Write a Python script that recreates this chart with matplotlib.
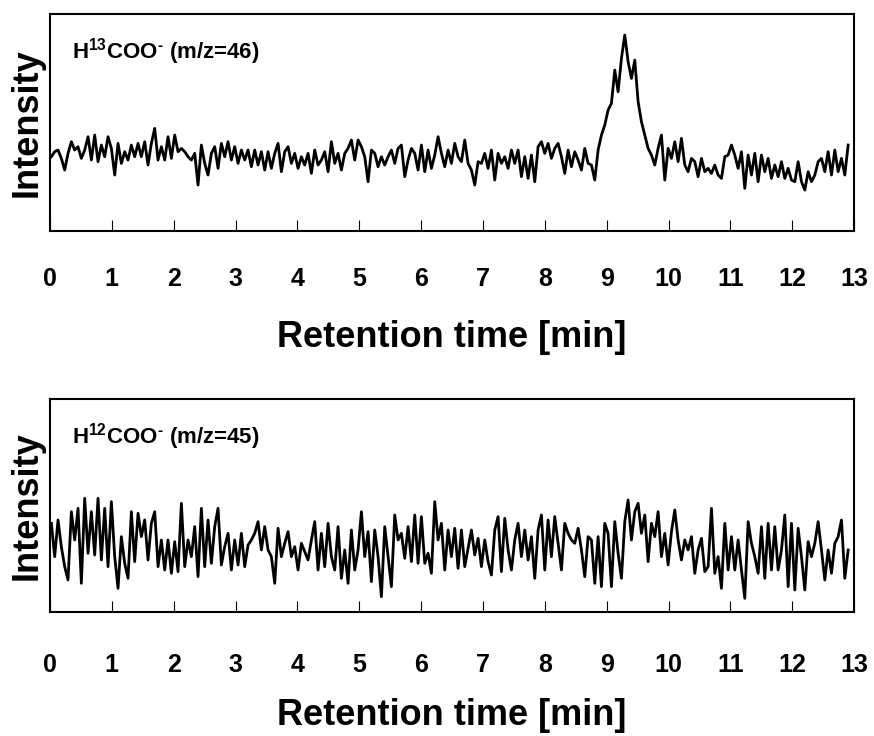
import numpy as np
import matplotlib
matplotlib.use("Agg")
import matplotlib.pyplot as plt

# sampling grid of the chromatogram (min)
sample_start = 0.022
sample_step = 0.0539

# H13COO- trace, m/z 46 (arbitrary intensity units)
h13coo = [
    223, 238, 243, 218, 183, 233, 268, 243, 253, 218,
    243, 283, 213, 288, 208, 258, 223, 283, 248, 168,
    263, 203, 238, 213, 258, 223, 263, 223, 268, 198,
    263, 308, 213, 253, 213, 283, 218, 288, 238, 248,
    238, 223, 213, 233, 138, 258, 203, 168, 233, 253,
    188, 263, 223, 268, 213, 253, 203, 243, 213, 243,
    193, 243, 198, 238, 183, 238, 188, 233, 263, 178,
    238, 253, 203, 233, 188, 223, 198, 233, 173, 243,
    198,
    213, 238, 178, 268, 203, 233, 183, 233, 248, 273,
    213, 273, 253, 223, 148, 243, 233, 193, 223, 198,
    223, 243, 203, 248, 258, 163, 213, 248, 233, 183,
    258, 178, 243, 188, 228, 283, 233, 193, 243, 203,
    263, 223, 208, 273, 203, 183, 138, 208, 203, 233,
    188, 243, 153, 233, 203, 223, 188, 243, 203, 243,
    163, 223, 158, 228, 148, 253, 268, 233, 263, 218,
    248, 263, 223, 173, 243, 193, 238, 213, 183, 248,
    203,
    198, 153, 243, 288, 318, 363, 383, 483, 418, 518,
    588, 508, 458, 513, 388, 328, 288, 248, 228, 198,
    248, 288, 153, 248, 218, 268, 208, 278, 198, 178,
    218, 208, 163, 218, 178, 188, 173, 198, 168, 158,
    223, 228, 258, 228, 188, 238, 128, 228, 168, 233,
    148, 228, 178, 218, 158, 198, 163, 208, 158, 188,
    153, 148, 208, 148, 123, 178, 148, 168, 208, 218,
    178, 238, 168, 243, 178, 218, 168, 258,
]

# H12COO- trace, m/z 45
h12coo = [
    266, 166, 276, 196, 136, 96, 301, 216, 311, 86,
    341, 176, 301, 171, 341, 156, 311, 136, 331, 166,
    71, 226, 146, 101, 301, 151, 296, 226, 276, 156,
    266, 301, 136, 216, 126, 216, 116, 211, 121, 326,
    136, 216, 166, 256, 106, 311, 136, 276, 146, 256,
    311, 141, 196, 236, 126, 216, 141, 236, 136, 201,
    216, 236, 271, 186, 256, 186, 166, 86, 251, 166,
    206, 241, 166, 196, 126, 206, 181, 156, 216, 271,
    126,
    236, 136, 266, 166, 126, 256, 101, 186, 86, 246,
    126, 186, 301, 166, 241, 91, 246, 166, 46, 256,
    166, 76, 291, 216, 236, 161, 256, 151, 291, 146,
    286, 146, 176, 116, 331, 216, 266, 126, 246, 166,
    251, 131, 246, 136, 191, 246, 171, 221, 136, 216,
    151, 111, 246, 286, 121, 281, 186, 126, 216, 266,
    166, 246, 156, 226, 101, 246, 291, 126, 276, 166,
    286, 206, 126, 266, 236, 216, 206, 251, 186, 106,
    226,
    216, 86, 226, 76, 266, 236, 76, 271, 176, 101,
    271, 336, 216, 301, 326, 236, 291, 151, 266, 226,
    301, 166, 236, 141, 241, 306, 216, 156, 216, 186,
    226, 116, 186, 221, 121, 136, 311, 116, 166, 71,
    266, 126, 226, 126, 216, 126, 41, 271, 206, 166,
    116, 256, 101, 266, 126, 256, 126, 186, 291, 76,
    266, 66, 251, 166, 66, 211, 166, 206, 271, 186,
    96, 186, 116, 206, 226, 276, 101, 186,
]

labels = [r"H$^{13}$COO$^{\text{-}}$ (m/z=46)",
          r"H$^{12}$COO$^{\text{-}}$ (m/z=45)"]
x_ticks = list(range(14))

plt.rcParams["font.family"] = ["Liberation Sans", "DejaVu Sans"]
plt.rcParams["font.weight"] = "bold"
plt.rcParams["mathtext.fontset"] = "custom"
plt.rcParams["mathtext.rm"] = "Liberation Sans:bold"
plt.rcParams["mathtext.default"] = "rm"


def plot_trace(ax, time, values, label, ymax, tick_pad, xlabel_pad):
    ax.plot(time, values, color="black", lw=2.0)
    ax.set_xlim(0, 13)
    ax.set_ylim(0, ymax)
    ax.set_xticks(x_ticks)
    ax.set_yticks([])
    ax.tick_params(axis="x", direction="in", length=8, width=0.8,
                   pad=tick_pad, labelsize=18)
    for spine in ax.spines.values():
        spine.set_linewidth(1.5)
    ax.set_xlabel("Retention time [min]", fontsize=26, fontweight="bold",
                  labelpad=xlabel_pad)
    ax.set_ylabel("Intensity", fontsize=26, fontweight="bold", labelpad=4)
    ax.text(0.027, 0.825, label, transform=ax.transAxes, fontsize=16,
            fontweight="bold", va="center")


def main() -> None:
    fig = plt.figure(figsize=(8.74, 7.36), dpi=100)

    time = sample_start + sample_step * np.arange(len(h13coo))

    ax1 = fig.add_axes([0.0572, 0.6861, 0.92, 0.2948])
    plot_trace(ax1, time, h13coo, labels[0], 651, 26, 21)

    ax2 = fig.add_axes([0.0572, 0.1685, 0.92, 0.2894])
    plot_trace(ax2, time, h12coo, labels[1], 639, 29.5, 15)

    fig.savefig("out.png", dpi=100)


if __name__ == "__main__":
    main()
